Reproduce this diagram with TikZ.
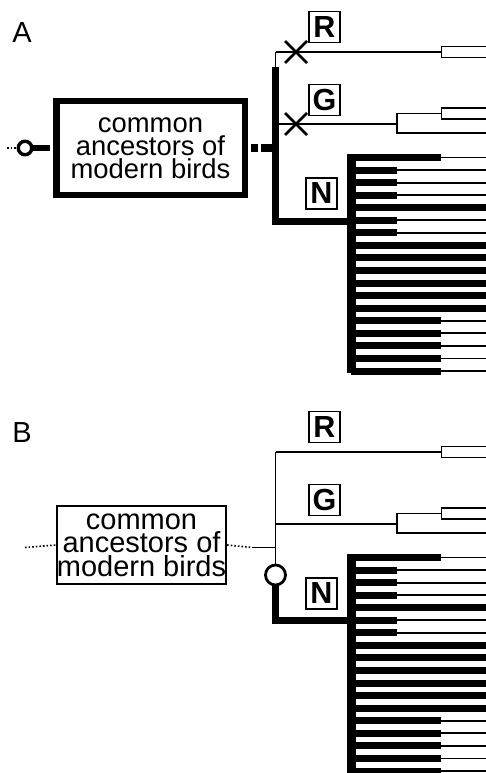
\documentclass[tikz,border=0pt]{standalone}
\usepackage{fontspec}
\setmainfont{Liberation Sans}
\tikzset{
  thinln/.style={line width=1.8pt},
  barln/.style={line width=7pt},
  lbl/.style={draw, line width=1.6pt, minimum size=31pt, inner sep=0pt, font=\fontsize{30.5}{30.5}\selectfont\bfseries},
  panel/.style={font=\fontsize{29}{29}\selectfont, inner sep=0pt},
  crossln/.style={line width=2.6pt},
}
\newcommand{\drawtree}[1]{%
  % R branch
  \coordinate (#1r0) at (275.5,52);
  \coordinate (#1r1) at (441.5,52);
  \draw[thinln] (#1r0) -- (#1r1);
  \draw[thinln] (490,46.5) -- (441.5,46.5) -- (441.5,57.5) -- (490,57.5);
  % G branch
  \coordinate (#1g0) at (275.5,124);
  \coordinate (#1g1) at (397,124);
  \draw[thinln] (#1g0) -- (#1g1);
  \draw[thinln] (490,133) -- (397,133) -- (397,113.5) -- (441.5,113.5);
  \draw[thinln] (490,108) -- (441.5,108) -- (441.5,119) -- (490,119);
  % labels
  \node[lbl] (#1R) at (324.5,27) {R};
  \node[lbl] (#1G) at (324.5,100) {G};
  \node[lbl] (#1N) at (321.5,193.5) {N};
  % N clade
  \coordinate (#1ntop) at (351.5,154);
  \coordinate (#1nbot) at (351.5,373);
  \draw[line width=9pt] (#1ntop) -- (#1nbot);
  \foreach \i/\e in {1/441,2/397,3/397,4/397,5/490,6/397,7/397,8/490,9/490,10/490,11/490,12/490,13/490,14/441,15/441,16/441,17/441,18/441}{
    \pgfmathsetmacro\yy{157.5+12.56*(\i-1)}
    \draw[barln] (351,\yy) -- (\e,\yy);
    \ifnum\e<490 \draw[thinln] (\e,\yy) -- (490,\yy);\fi
  }
}
\begin{document}
\begin{tikzpicture}[x=1pt,y=-1pt]
\useasboundingbox[fill=white] (0,0) rectangle (485,773);
% ---------------- Panel A ----------------
\node[panel] (labA) at (22,33) {A};
\node[circle, draw, line width=3.4pt, minimum size=13.5pt, inner sep=0pt] (circA) at (25,148) {};
\node[draw, line width=6.5pt, minimum width=188.5pt, minimum height=93.5pt, inner sep=0pt,
      align=center, font=\fontsize{27.4}{23}\selectfont] (ancA) at (150.5,148)
      {common\\ancestors of\\modern birds};
\draw[dotted, line width=1.6pt] (7,148) -- (circA.west);
\draw[line width=5.5pt, shorten >=3pt] (circA.east) -- (ancA.west);
\coordinate (jA) at (275.5,148);
\draw[line width=7.5pt] ([xshift=3pt]ancA.east) -- ++(7,0);
\draw[line width=7.5pt] ([xshift=13pt]ancA.east) -- (jA);
\drawtree{A}
\draw[thinln] (275.5,67) -- (Ar0);
\draw[barln, line join=miter] (275.5,67) -- (275.5,221) -- (348,221);
% crosses
\draw[crossln] (285,41) -- (307,63) (285,63) -- (307,41);
\draw[crossln] (285,113) -- (307,135) (285,135) -- (307,113);
% ---------------- Panel B ----------------
\node[panel] (labB) at (22,433) {B};
\node[draw, line width=2pt, minimum width=169pt, minimum height=78pt, inner sep=0pt,
      align=center, font=\fontsize{29}{23.5}\selectfont] (ancB) at (141.5,545)
      {common\\ancestors of\\modern birds};
\begin{scope}[yshift=-400pt]
\drawtree{B}
\end{scope}
\coordinate (jB) at (275.5,547.5);
\coordinate (jBd) at (252,547.5);
\draw[dotted, line width=1.6pt] (25,547.5) -- (ancB.west);
\draw[dotted, line width=1.6pt] (ancB.east) -- (jBd);
\draw[thinln] (jBd) -- (jB);
\node[circle, draw, line width=2.8pt, minimum size=20pt, inner sep=0pt] (circB) at (275.5,575) {};
\draw[thinln] (Br0) -- (circB.north);
\draw[barln, line join=miter] (circB.south) -- (275.5,620.5) -- (348,620.5);
\end{tikzpicture}
\end{document}
